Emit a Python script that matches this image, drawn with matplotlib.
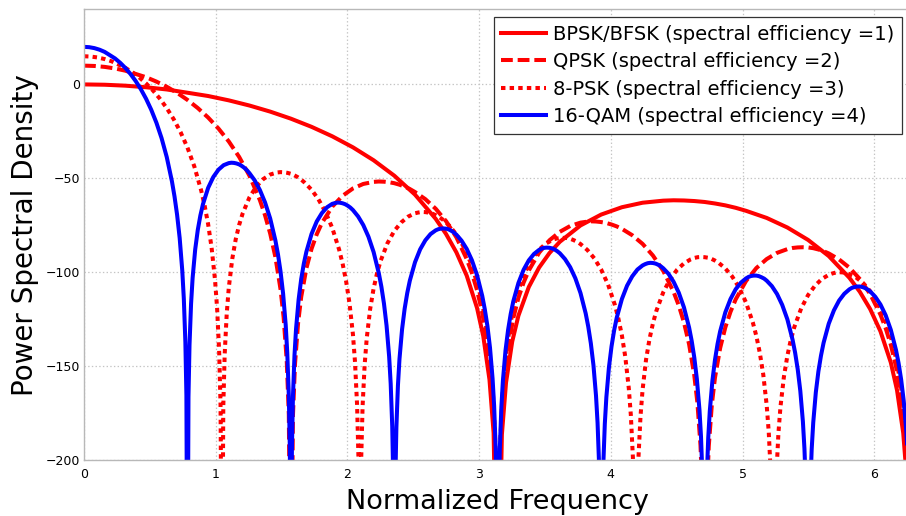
import matplotlib
matplotlib.use("Agg")
import matplotlib.pyplot as plt

plt.rcParams['font.family'] = ['DejaVu Sans']
plt.rcParams['lines.scale_dashes'] = False

# ---------------- data ----------------
# relative sample positions inside a lobe (0 = left null, 1 = right null)
t_main = [0, .05, .1, .15, .2, .25, .3, .35, .4, .45, .5, .55, .6, .65, .7, .75, .8, .85,
          .875, .9, .925, .95, .965, .98, .99, 1.0]
t_side = [.01, .02, .035, .05, .075, .1, .125, .15, .2, .25, .3, .35, .4, .425, .45, .475, .5,
          .525, .55, .575, .6, .65, .7, .75, .8, .85, .875, .9, .925, .95, .965, .98, .99, 1.0]

# spectral nulls (normalized frequency)
bpsk_nulls = [0, 3.1416, 6.2832]
qpsk_nulls = [0, 1.5708, 3.1416, 4.7124, 6.2832]
psk8_nulls = [0, 1.0472, 2.0944, 3.1416, 4.1888, 5.2360, 6.2832]
qam16_nulls = [0, 0.7854, 1.5708, 2.3562, 3.1416, 3.9270, 4.7124, 5.4978, 6.2832]

# PSD values (dB) – main lobe and side lobes
bpsk_main = [0, -0.17, -0.67, -1.51, -2.69, -4.42, -6.17, -8.49, -11.25, -14.48, -18.24, -22.59, -27.63,
             -33.50, -40.39, -48.61, -58.69, -71.57, -79.64, -89.41, -101.84, -119.09, -134.05, -157.21,
             -185.60, -300]
bpsk_side1 = [-186.4, -158.8, -136.9, -123.1, -107.9, -97.5, -89.8, -83.8, -75.1, -69.3, -65.4, -63.0, -61.9,
              -61.7, -61.8, -62.1, -62.6, -63.4, -64.4, -65.7, -67.3, -71.1, -76.2, -82.8, -91.4, -103.0,
              -110.4, -119.6, -131.5, -148.1, -162.8, -185.6, -213.8, -300]

qpsk_main = [10, 9.83, 9.33, 8.49, 7.31, 5.58, 3.83, 1.51, -1.25, -4.48, -8.24, -12.59, -17.63, -23.50,
             -30.39, -38.61, -48.69, -61.57, -69.64, -79.41, -91.84, -109.09, -124.05, -147.21, -175.60, -300]
qpsk_side1 = [-176.4, -148.8, -126.9, -113.1, -97.9, -87.5, -79.8, -73.8, -65.1, -59.3, -55.4, -53.0, -51.9,
              -51.7, -51.8, -52.1, -52.6, -53.4, -54.4, -55.7, -57.3, -61.1, -66.2, -72.8, -81.4, -93.0,
              -100.4, -109.6, -121.5, -138.1, -152.8, -175.6, -203.8, -300]
qpsk_side2 = [-204.2, -176.4, -154.2, -140.2, -124.5, -113.6, -105.5, -99.1, -89.6, -83.0, -78.5, -75.4,
              -73.6, -73.2, -72.9, -73.0, -73.3, -73.8, -74.6, -75.6, -76.9, -80.3, -84.9, -91.1, -99.3,
              -110.5, -117.7, -126.7, -138.4, -154.9, -169.4, -192.2, -220.3, -300]
qpsk_side3 = [-220.5, -192.7, -170.3, -156.2, -140.4, -129.4, -121.1, -114.5, -104.7, -97.8, -93.0, -89.7,
              -87.7, -87.1, -86.8, -86.7, -86.8, -87.2, -87.9, -88.8, -90.0, -93.2, -97.6, -103.6, -111.6,
              -122.6, -129.8, -138.6, -150.2, -166.7, -181.1, -203.8, -231.9, -300]

psk8_main = [15, 14.83, 14.33, 13.49, 12.31, 10.58, 8.83, 6.51, 3.75, 0.52, -3.24, -7.59, -12.63, -18.50,
             -25.39, -33.61, -43.69, -56.57, -64.64, -74.41, -86.84, -104.09, -119.05, -142.21, -170.60, -300]
psk8_side1 = [-171.4, -143.8, -121.9, -108.1, -92.9, -82.5, -74.8, -68.8, -60.1, -54.3, -50.4, -48.0, -46.9,
              -46.7, -46.8, -47.1, -47.6, -48.4, -49.4, -50.7, -52.3, -56.1, -61.2, -67.8, -76.4, -88.0,
              -95.4, -104.6, -116.5, -133.1, -147.8, -170.6, -198.8, -300]
psk8_side2 = [-199.2, -171.4, -149.2, -135.2, -119.5, -108.6, -100.5, -94.1, -84.6, -78.0, -73.5, -70.4,
              -68.6, -68.2, -67.9, -68.0, -68.3, -68.8, -69.6, -70.6, -71.9, -75.3, -79.9, -86.1, -94.3,
              -105.5, -112.7, -121.7, -133.4, -149.9, -164.4, -187.2, -215.3, -300]
psk8_side3 = [-215.5, -187.7, -165.3, -151.2, -135.4, -124.4, -116.1, -109.5, -99.7, -92.8, -88.0, -84.7,
              -82.7, -82.1, -81.8, -81.7, -81.8, -82.2, -82.9, -83.8, -85.0, -88.2, -92.6, -98.6, -106.6,
              -117.6, -124.8, -133.6, -145.2, -161.7, -176.1, -198.8, -226.9, -300]
psk8_side4 = [-227.1, -199.2, -176.8, -162.7, -146.7, -135.7, -127.3, -120.6, -110.7, -103.7, -98.7, -95.3,
              -93.1, -92.4, -92.0, -91.9, -92.0, -92.3, -92.9, -93.8, -94.9, -98.0, -102.3, -108.2, -116.1,
              -126.9, -134.0, -142.9, -154.4, -170.8, -185.2, -207.9, -235.9, -300]
psk8_side5 = [-236.1, -208.2, -185.8, -171.6, -155.6, -144.5, -136.0, -129.3, -119.3, -112.2, -107.2, -103.6,
              -101.4, -100.7, -100.2, -100.0, -100.1, -100.4, -101.0, -101.8, -102.9, -105.8, -110.1, -115.9,
              -123.7, -134.5, -141.6, -150.4, -161.9, -178.2, -192.6, -215.3, -243.3, -300]

qam16_main = [20, 19.83, 19.33, 18.49, 17.31, 15.58, 13.83, 11.51, 8.75, 5.52, 1.76, -2.59, -7.63, -13.50,
              -20.39, -28.61, -38.69, -51.57, -59.64, -69.41, -81.84, -99.09, -114.05, -137.21, -165.60, -300]
qam16_side1 = [-166.4, -138.8, -116.9, -103.1, -87.9, -77.5, -69.8, -63.8, -55.1, -49.3, -45.4, -43.0, -41.9,
               -41.7, -41.8, -42.1, -42.6, -43.4, -44.4, -45.7, -47.3, -51.1, -56.2, -62.8, -71.4, -83.0,
               -90.4, -99.6, -111.5, -128.1, -142.8, -165.6, -193.8, -300]
qam16_side2 = [-194.2, -166.4, -144.2, -130.2, -114.5, -103.6, -95.5, -89.1, -79.6, -73.0, -68.5, -65.4,
               -63.6, -63.2, -62.9, -63.0, -63.3, -63.8, -64.6, -65.6, -66.9, -70.3, -74.9, -81.1, -89.3,
               -100.5, -107.7, -116.7, -128.4, -144.9, -159.4, -182.2, -210.3, -300]
qam16_side3 = [-210.5, -182.7, -160.3, -146.2, -130.4, -119.4, -111.1, -104.5, -94.7, -87.8, -83.0, -79.7,
               -77.7, -77.1, -76.8, -76.7, -76.8, -77.2, -77.9, -78.8, -80.0, -83.2, -87.6, -93.6, -101.6,
               -112.6, -119.8, -128.6, -140.2, -156.7, -171.1, -193.8, -221.9, -300]
qam16_side4 = [-222.1, -194.2, -171.8, -157.7, -141.7, -130.7, -122.3, -115.6, -105.7, -98.7, -93.7, -90.3,
               -88.1, -87.4, -87.0, -86.9, -87.0, -87.3, -87.9, -88.8, -89.9, -93.0, -97.3, -103.2, -111.1,
               -121.9, -129.0, -137.9, -149.4, -165.8, -180.2, -202.9, -230.9, -300]
qam16_side5 = [-231.1, -203.2, -180.8, -166.6, -150.6, -139.5, -131.0, -124.3, -114.3, -107.2, -102.2, -98.6,
               -96.4, -95.7, -95.2, -95.0, -95.1, -95.4, -96.0, -96.8, -97.9, -100.8, -105.1, -110.9, -118.7,
               -129.5, -136.6, -145.4, -156.9, -173.2, -187.6, -210.3, -238.3, -300]
qam16_side6 = [-238.5, -210.5, -188.1, -173.9, -157.9, -146.7, -138.2, -131.5, -121.4, -114.3, -109.1, -105.6,
               -103.3, -102.5, -102.0, -101.8, -101.8, -102.1, -102.7, -103.4, -104.5, -107.4, -111.6, -117.4,
               -125.1, -135.9, -142.9, -151.7, -163.2, -179.5, -193.9, -216.5, -244.6, -300]
qam16_side7 = [-244.7, -216.8, -194.3, -180.1, -164.0, -152.8, -144.4, -137.6, -127.4, -120.3, -115.1, -111.5,
               -109.1, -108.3, -107.9, -107.6, -107.6, -107.9, -108.4, -109.2, -110.2, -113.1, -117.2, -122.9,
               -130.7, -141.4, -148.4, -157.2, -168.6, -184.9, -199.3, -221.9, -249.9, -300]

labels = ["BPSK/BFSK (spectral efficiency =1)",
          "QPSK (spectral efficiency =2)",
          "8-PSK (spectral efficiency =3)",
          "16-QAM (spectral efficiency =4)"]
x_ticks = [0, 1, 2, 3, 4, 5, 6]
y_ticks = [-200, -150, -100, -50, 0]


def assemble(nulls, main_vals, side_lists):
    xs = [nulls[0] + t * (nulls[1] - nulls[0]) for t in t_main]
    ys = list(main_vals)
    for k, vals in enumerate(side_lists, start=1):
        a, b = nulls[k], nulls[k + 1]
        xs += [a + t * (b - a) for t in t_side]
        ys += list(vals)
    return xs, ys


bpsk_x, bpsk_y = assemble(bpsk_nulls, bpsk_main, [bpsk_side1])
qpsk_x, qpsk_y = assemble(qpsk_nulls, qpsk_main, [qpsk_side1, qpsk_side2, qpsk_side3])
psk8_x, psk8_y = assemble(psk8_nulls, psk8_main, [psk8_side1, psk8_side2, psk8_side3, psk8_side4, psk8_side5])
qam16_x, qam16_y = assemble(qam16_nulls, qam16_main,
                            [qam16_side1, qam16_side2, qam16_side3, qam16_side4, qam16_side5,
                             qam16_side6, qam16_side7])

# ---------------- figure ----------------
W, H = 906, 516
fig = plt.figure(figsize=(W / 100, H / 100), dpi=100)
ax_l, ax_r, ax_t, ax_b = 84, 911.5, 9.3, 460
ax = fig.add_axes([ax_l / W, (H - ax_b) / H, (ax_r - ax_l) / W, (ax_b - ax_t) / H])

lw = 2.9
ax.plot(bpsk_x, bpsk_y, color='#ff0000', lw=lw, ls='-', label=labels[0])
ax.plot(qpsk_x, qpsk_y, color='#ff0000', lw=lw, ls=(0, (8.5, 3.5)), label=labels[1])
ax.plot(psk8_x, psk8_y, color='#ff0000', lw=lw, ls=(0, (3.2, 3.0)), label=labels[2])
ax.plot(qam16_x, qam16_y, color='#0000ff', lw=lw, ls='-', label=labels[3])

ax.set_xlim(0, 6.2832)
ax.set_ylim(-200, 40)
ax.set_xticks(x_ticks)
ax.set_yticks(y_ticks)
ax.tick_params(axis='both', length=0, labelsize=9, colors='black')
ax.tick_params(axis='x', pad=5.5)
ax.tick_params(axis='y', pad=3)
ax.grid(True, color='#c4c4c4', ls=':', lw=0.9)
for s in ax.spines.values():
    s.set_color('#b8b8b8')
    s.set_linewidth(1.0)

ax.set_xlabel("Normalized Frequency", fontsize=19.5, labelpad=6)
ax.set_ylabel("Power Spectral Density", fontsize=20, labelpad=5)

leg = ax.legend(loc='upper right', bbox_to_anchor=(902 / W, 1 - 17 / H),
                bbox_transform=fig.transFigure, borderaxespad=0, fontsize=14,
                handlelength=2.3, handletextpad=0.35, labelspacing=0.43, borderpad=0.4,
                fancybox=False, framealpha=1, edgecolor='#333333')
leg.get_frame().set_linewidth(0.9)

fig.savefig("out.png", dpi=100)
